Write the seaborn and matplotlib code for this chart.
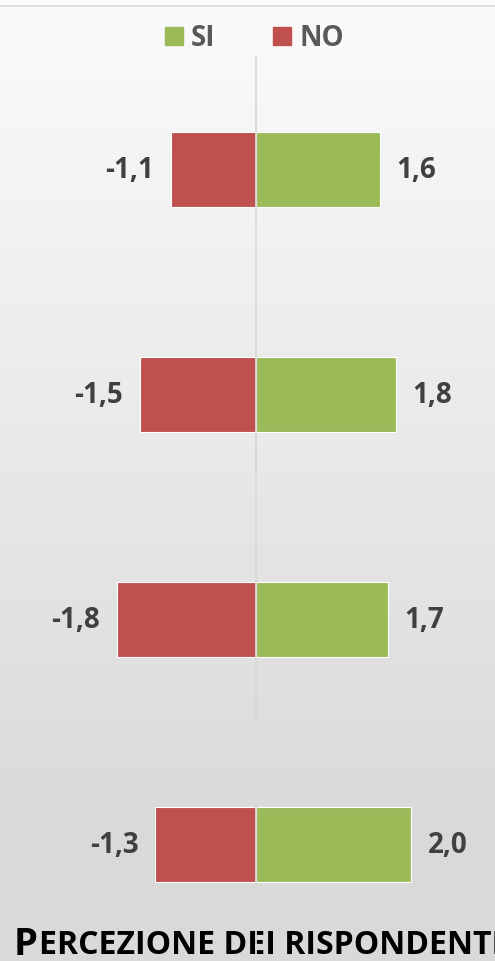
"""
Diverging bar chart: SI / NO perception of respondents.
"""

import numpy as np
import pandas as pd
import matplotlib
matplotlib.use("Agg")
import matplotlib.pyplot as plt
import seaborn as sns
from matplotlib.lines import Line2D

# %% Data
categories = ["A", "B", "C", "D"]
si_values = [1.6, 1.8, 1.7, 2.0]
no_values = [-1.1, -1.5, -1.8, -1.3]
series_names = ["SI", "NO"]
title_text = "PERCEZIONE DEI RISPONDENTI"

GREEN = "#9BBB59"
RED = "#C0504D"
TEXT = "#404040"
AXIS = "#d9d9d9"

sns.set_style("white")
plt.rcParams["font.family"] = ["Open Sans", "DejaVu Sans"]

W, H, DPI = 495, 962, 100
fig = plt.figure(figsize=(W / DPI, H / DPI), dpi=DPI)

# %% Background gradient (light at top, gray at bottom)
bg = fig.add_axes([0, 0, 1, 1], zorder=-10)
rows = np.arange(H)
top_v, bot_v = 250, 217
grad = np.clip((rows - 7) / (820 - 7), 0, 1)
vals = (top_v - grad * (top_v - bot_v)) / 255.0
img = np.repeat(vals[:, None], 2, axis=1)
bg.imshow(img, cmap="gray", vmin=0, vmax=1, aspect="auto",
          extent=[0, 1, 0, 1], origin="upper")
bg.set_axis_off()
# top border line
fig.add_artist(Line2D([0, 1], [1 - 6.5 / H] * 2, transform=fig.transFigure,
                      color=AXIS, linewidth=1.2))

# %% Main axes
ax_top, ax_bot = 58, H
ax = fig.add_axes([0, 1 - ax_bot / H, 1, (ax_bot - ax_top) / H], zorder=5)
ax.patch.set_alpha(0)

df = pd.DataFrame({"cat": categories, "SI": si_values, "NO": no_values})
sns.barplot(data=df, x="SI", y="cat", orient="h", color=GREEN, width=0.333,
            saturation=1, edgecolor="white", linewidth=0.8, ax=ax)
sns.barplot(data=df, x="NO", y="cat", orient="h", color=RED, width=0.333,
            saturation=1, edgecolor="white", linewidth=0.8, ax=ax)

px_per_unit = 77.5
zero_x = 256
ax.set_xlim(-zero_x / px_per_unit, (W - zero_x) / px_per_unit)
first_center = 170.5 - ax_top
spacing = 225.0
y_top = -first_center / spacing
ax.set_ylim(y_top + (ax_bot - ax_top) / spacing, y_top)
ax.axvline(0, color=AXIS, linewidth=1.3, zorder=10)

def fmt(v):
    return f"{v:.1f}".replace(".", ",")

for i, (s, n) in enumerate(zip(si_values, no_values)):
    ax.annotate(fmt(s), xy=(s, i), xytext=(12, 0), textcoords="offset points",
                ha="left", va="center", fontsize=20, fontweight="bold", color=TEXT)
    ax.annotate(fmt(n), xy=(n, i), xytext=(-12, 0), textcoords="offset points",
                ha="right", va="center", fontsize=20, fontweight="bold", color=TEXT)

ax.set_axis_off()

# %% Legend
handles = [Line2D([], [], marker="s", linestyle="none", markersize=13.5,
                  markerfacecolor=c, markeredgecolor=c) for c in (GREEN, RED)]
leg = fig.legend(handles, series_names, loc="center", ncol=2,
                 bbox_to_anchor=(252 / W, 1 - 39 / H), frameon=False,
                 handletextpad=0.13, columnspacing=1.9, handlelength=1.0,
                 prop={"size": 20, "weight": "bold"})
for t in leg.get_texts():
    t.set_color("#595959")

# %% Title with small caps
t1 = fig.text(14 / W, 7 / H, title_text[0], fontsize=27.5, fontweight="bold",
              color="black", ha="left", va="baseline", zorder=1)
fig.add_artist(plt.Annotation(title_text[1:], xy=(1, 0), xycoords=t1,
                              xytext=(1, 1.3), textcoords="offset points",
                              ha="left", va="bottom", fontsize=23,
                              fontweight="bold", color="black", zorder=1))

fig.savefig("out.png", dpi=DPI)
